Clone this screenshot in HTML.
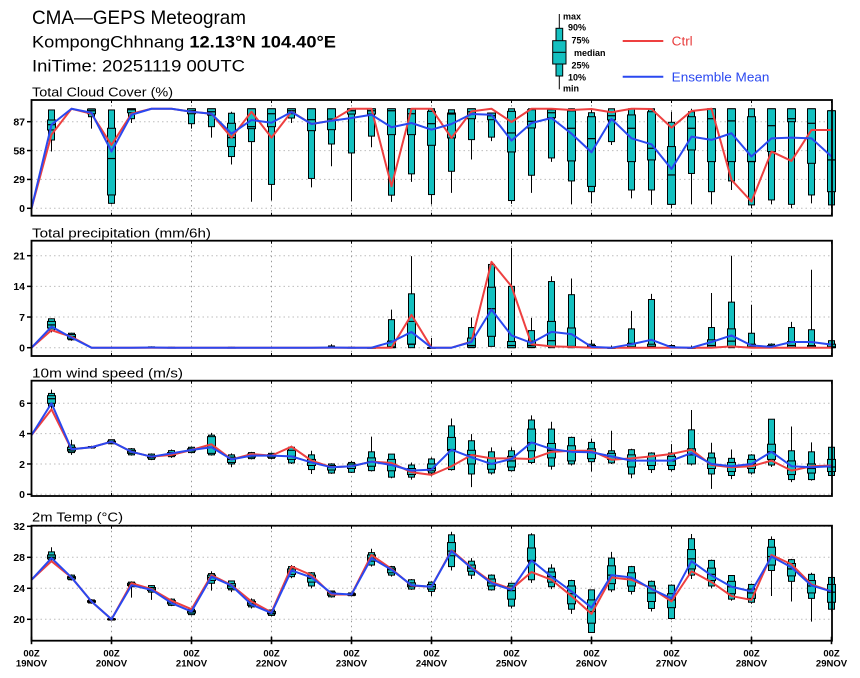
<!DOCTYPE html>
<html><head><meta charset="utf-8"><style>
html,body{margin:0;padding:0;background:#fff;}
svg{display:block;font-family:"Liberation Sans",Arial,sans-serif;}
.yl{font-weight:bold;font-size:10.5px;text-anchor:end;}
.xl{font-weight:bold;font-size:9.5px;text-anchor:middle;}
.lg{font-weight:bold;font-size:9px;}
</style></head><body>
<svg width="860" height="678" viewBox="0 0 860 678" xmlns="http://www.w3.org/2000/svg">
<rect width="860" height="678" fill="#fff"/>
<text x="32" y="24" font-size="19.5" textLength="214" lengthAdjust="spacingAndGlyphs">CMA—GEPS Meteogram</text>
<text x="32" y="47.7" font-size="16.5" textLength="304" lengthAdjust="spacingAndGlyphs">KompongChhnang <tspan font-weight="bold">12.13°N 104.40°E</tspan></text>
<text x="32" y="71.7" font-size="16.5" textLength="213" lengthAdjust="spacingAndGlyphs">IniTime: 20251119 00UTC</text>

<!-- legend -->
<line x1="559.3" y1="14" x2="559.3" y2="89.3" stroke="#000" stroke-width="1"/>
<rect x="556" y="28.3" width="6.7" height="47.7" fill="#14c0c0" stroke="#000" stroke-width="1"/>
<rect x="552.7" y="40.7" width="13.3" height="23.3" fill="#14c0c0" stroke="#000" stroke-width="1"/>
<line x1="552.7" y1="52.3" x2="566" y2="52.3" stroke="#000" stroke-width="1"/>
<text class="lg" x="563" y="19.3">max</text>
<text class="lg" x="568" y="30.7">90%</text>
<text class="lg" x="571.5" y="43.3">75%</text>
<text class="lg" x="574" y="56">median</text>
<text class="lg" x="571.5" y="68.3">25%</text>
<text class="lg" x="568" y="80.7">10%</text>
<text class="lg" x="563" y="91.7">min</text>
<line x1="622.7" y1="41" x2="663.3" y2="41" stroke="#ee4040" stroke-width="2"/>
<text x="671.7" y="45.5" font-size="13" fill="#e83c3c" textLength="21" lengthAdjust="spacingAndGlyphs">Ctrl</text>
<line x1="622.7" y1="76.7" x2="663.3" y2="76.7" stroke="#2a48f0" stroke-width="2"/>
<text x="671.7" y="81.5" font-size="13" fill="#2a48f0" textLength="97.7" lengthAdjust="spacingAndGlyphs">Ensemble Mean</text>

<!-- panel titles -->
<text x="32" y="96.7" font-size="12.5" textLength="141" lengthAdjust="spacingAndGlyphs">Total Cloud Cover (%)</text>
<text x="32" y="237.3" font-size="12.5" textLength="179" lengthAdjust="spacingAndGlyphs">Total precipitation (mm/6h)</text>
<text x="32" y="377.3" font-size="12.5" textLength="151" lengthAdjust="spacingAndGlyphs">10m wind speed (m/s)</text>
<text x="32" y="521.7" font-size="12.5" textLength="91" lengthAdjust="spacingAndGlyphs">2m Temp (°C)</text>

<!-- y labels -->
<text class="yl" x="25" y="212.1">0</text>
<text class="yl" x="25" y="183.2">29</text>
<text class="yl" x="25" y="154.4">58</text>
<text class="yl" x="25" y="125.5">87</text>

<text class="yl" x="25" y="351.5">0</text>
<text class="yl" x="25" y="320.8">7</text>
<text class="yl" x="25" y="290.2">14</text>
<text class="yl" x="25" y="259.5">21</text>

<text class="yl" x="25" y="498.1">0</text>
<text class="yl" x="25" y="467.8">2</text>
<text class="yl" x="25" y="437.4">4</text>
<text class="yl" x="25" y="407.1">6</text>

<text class="yl" x="25" y="623.1">20</text>
<text class="yl" x="25" y="592.1">24</text>
<text class="yl" x="25" y="561.1">28</text>
<text class="yl" x="25" y="530.1">32</text>

<!-- x labels -->
<g>
<text class="xl" x="31.5" y="656.5">00Z</text><text class="xl" x="31.5" y="666.5">19NOV</text>
<text class="xl" x="111.5" y="656.5">00Z</text><text class="xl" x="111.5" y="666.5">20NOV</text>
<text class="xl" x="191.5" y="656.5">00Z</text><text class="xl" x="191.5" y="666.5">21NOV</text>
<text class="xl" x="271.5" y="656.5">00Z</text><text class="xl" x="271.5" y="666.5">22NOV</text>
<text class="xl" x="351.5" y="656.5">00Z</text><text class="xl" x="351.5" y="666.5">23NOV</text>
<text class="xl" x="431.5" y="656.5">00Z</text><text class="xl" x="431.5" y="666.5">24NOV</text>
<text class="xl" x="511.5" y="656.5">00Z</text><text class="xl" x="511.5" y="666.5">25NOV</text>
<text class="xl" x="591.5" y="656.5">00Z</text><text class="xl" x="591.5" y="666.5">26NOV</text>
<text class="xl" x="671.5" y="656.5">00Z</text><text class="xl" x="671.5" y="666.5">27NOV</text>
<text class="xl" x="751.5" y="656.5">00Z</text><text class="xl" x="751.5" y="666.5">28NOV</text>
<text class="xl" x="831.5" y="656.5">00Z</text><text class="xl" x="831.5" y="666.5">29NOV</text>
</g>

<g id="plots"></g>
</svg>
<script>
(function(){
const NS="http://www.w3.org/2000/svg";
const g=document.getElementById('plots');
function el(tag,a){const e=document.createElementNS(NS,tag);for(const k in a)e.setAttribute(k,a[k]);g.appendChild(e);return e;}
const X=k=>31.5+20*k;
const P1=[[0,0],
[57,68.6,78.7,84,88.7,98.8,99,74,84],
[100,100],
[80,92,95,98,99.7,100,100,95,96],
[4,5,13.4,50,80.4,98.8,99,63.6,57],
[85.7,90,96,99,100,100,100,95,94],
[100,100],
[100,100],
[80,85,95,98,100,100,100,97,97],
[71,82,93.6,97,100,100,100,95,95],
[44,52,62,71,85.4,95.5,97,71,75],
[6.6,67,80,82,100,100,100,97,88.7],
[8,24,82,95,100,100,100,71,86],
[85.7,90.7,95,98,100,100,100,97,96.7],
[21,30,78,89,100,100,100,84.7,84.7],
[42.3,64.6,79,89.7,100,100,100,88,88],
[7,55.6,94.7,98,100,100,100,100,90.7],
[61.3,72.5,94.7,98,100,100,100,100,94],
[6.5,13.2,74,98,100,100,100,22.2,81.4],
[26.5,34.6,74,95,100,100,100,100,85.7],
[3.8,13.8,63.3,85,97.4,100,100,100,79],
[15.5,37.2,70.7,94.7,95.7,99,99,70.7,84.7],
[49,69,90,97,100,100,100,97.4,94.7],
[67.5,71.5,89,93,95.7,95.7,96,100,94],
[4.5,7.8,56.6,75.7,97.4,100,100,86.7,68],
[15.5,33.2,80.7,87.4,99,100,100,100,85.7],
[46.6,50.6,91,96,99,99,100,100,90.7],
[4,27.5,47.6,80.4,97.8,100,100,98.8,75],
[5,16.7,22,70,92,96,100,99.8,56.3],
[63.6,67,88.8,93,97,100,100,96.5,89.8],
[10,18.4,46.9,80.4,93.8,100,100,100,70.3],
[3.4,18.4,48.6,60.3,97,100,100,99.8,64.3],
[0,4,4,33.5,62,86.4,97,81,39.5],
[4,35,58.6,80.4,92,97,100,97.8,72],
[4,16.7,46.9,90,100,100,100,100,68.7],
[18.4,27.5,46.9,87.8,100,100,100,28.5,75.4],
[0,3.4,46.9,47,92,100,100,6.7,52],
[4,8.4,57,83,100,100,100,57,70.3],
[0,4,87,90,100,100,100,47.6,71],
[5,13.4,45.2,85.4,100,100,100,78.7,70.3],
[0,3.4,16.7,48.6,98,98,100,78.7,52]];
const P2=[[0,0],
[3.5,4.0,4.5,5.2,6.0,6.6,6.7,4.0,4.8],
[1.6,1.8,2.0,2.5,3.0,3.3,3.4,2.5,2.3],
[0,0],[0,0],[0,0],
[0,0,0,0.05,0.1,0.2,0.3,0,0.05],
[0,0,0,0,0.05,0.1,0.2,0,0],
[0,0],[0,0],
[0,0,0,0,0.05,0.1,0.2,0,0],
[0,0],[0,0],[0,0],[0,0],
[0,0,0,0.05,0.15,0.4,0.8,0,0.05],
[0,0,0,0,0.05,0.1,0.2,0,0],
[0,0,0,0,0,0.05,0.2,0,0],
[0,0,0,0.2,1.5,6.4,8.7,0,1.3],
[0,0,0.8,0.8,6,12.3,20.9,7.5,3.6],
[0,0,0,0,0,0,2.2,0,0],
[0,0],
[0,0,0.1,0.5,2.2,4.6,6.9,1.4,1.3],
[0.3,0.3,2.6,8.9,13.8,19,19.3,19.6,8.7],
[0,0,0,0.5,1.4,14,22.8,14,2.8],
[0,0,0.1,0.5,1.5,3.9,6.8,0.8,1.1],
[0,0,0.3,1.6,6,15.1,16.3,0.3,3.6],
[0,0,0.1,0.3,4.5,12.1,15.8,0.2,3.1],
[0,0,0,0.2,0.5,0.8,1.8,0,0.2],
[0,0,0,0,0,0,0.5,0,0],
[0,0,0,0.2,1,4.3,8.4,0,0.8],
[0,0,0,0.3,0.8,11,12.3,0,1.8],
[0,0,0,0,0.2,0.5,0.8,0,0.1],
[0,0,0,0,0,0,0.5,0,0],
[0,0,0.1,0.5,1.8,4.6,12.5,0,1.3],
[0,0,0.3,1.5,4.3,10.4,21,0.3,2.8],
[0,0,0,0.2,0.8,3.3,9.8,0,0.5],
[0,0,0,0.2,0.5,0.8,1,0,0.2],
[0,0,0.1,0.5,1.4,4.6,5.9,0,1.3],
[0,0,0,0.2,0.5,4.1,17.8,0,1.3],
[0,0,0,0.2,0.8,1.6,1.8,0,0.7]];
const P3=[[3.9,3.9],
[5.6,5.8,6.0,6.3,6.5,6.65,6.9,5.6,6.0],
[2.6,2.75,2.85,2.95,3.1,3.25,3.6,2.97,2.97],
[3.0,3.05,3.08,3.1,3.12,3.15,3.2,3.1,3.1],
[3.3,3.33,3.4,3.45,3.5,3.6,3.6,3.47,3.47],
[2.55,2.6,2.7,2.8,2.9,3.0,3.05,2.8,2.8],
[2.25,2.3,2.4,2.48,2.55,2.65,2.7,2.48,2.48],
[2.4,2.48,2.55,2.65,2.75,2.88,2.95,2.6,2.7],
[2.7,2.75,2.85,2.92,3.0,3.1,3.15,2.92,2.92],
[2.55,2.6,2.7,3.1,3.8,3.9,4.05,3.3,3.1],
[1.78,2.0,2.1,2.3,2.45,2.6,2.7,2.3,2.3],
[2.3,2.35,2.45,2.55,2.65,2.75,2.8,2.65,2.55],
[2.3,2.37,2.45,2.55,2.62,2.7,2.75,2.55,2.55],
[2.0,2.07,2.3,2.5,2.9,3.1,3.2,3.14,2.5],
[1.34,1.63,1.9,2.1,2.3,2.6,2.87,2.22,2.1],
[1.35,1.4,1.6,1.78,1.9,2.0,2.05,1.78,1.78],
[1.4,1.45,1.7,1.85,2.0,2.1,2.2,1.85,1.85],
[1.5,1.56,1.85,2.15,2.4,2.8,3.8,2.15,2.15],
[1.06,1.13,1.55,1.93,2.3,2.65,2.65,2.07,1.93],
[0.97,1.13,1.3,1.5,1.7,1.93,2.1,1.45,1.56],
[1.2,1.41,1.55,1.7,2.0,2.33,2.43,1.28,1.63],
[1.56,1.63,2.87,2.95,3.75,4.51,5.0,1.85,2.94],
[0.47,1.34,2.0,2.6,2.9,3.53,3.97,2.59,2.44],
[1.3,1.41,1.65,2.0,2.4,2.8,3.09,2.37,2.0],
[1.5,1.56,1.8,2.2,2.5,2.87,3.09,2.37,2.33],
[2.0,2.1,2.87,3.4,4.3,4.9,5.2,2.33,3.42],
[1.63,1.85,2.4,2.9,3.35,4.3,4.78,2.8,2.98],
[1.9,2.0,2.2,2.8,3.2,3.75,3.8,2.87,2.8],
[1.5,2.15,2.35,2.8,3.0,3.42,3.68,2.87,2.77],
[2.0,2.07,2.3,2.5,2.7,2.87,4.19,2.28,2.5],
[1.06,1.34,1.8,2.2,2.6,2.94,3.0,2.37,2.22],
[1.4,1.63,1.9,2.2,2.5,2.72,2.77,2.5,2.22],
[1.5,1.63,1.9,2.2,2.5,2.72,3.31,2.66,2.22],
[1.9,2.0,2.0,2.6,3.0,4.25,5.56,2.94,2.72],
[0.36,1.34,1.7,2.0,2.4,2.72,3.4,1.93,2.0],
[1.0,1.24,1.5,1.8,2.1,2.37,2.95,1.78,1.85],
[1.3,1.41,1.7,2.0,2.3,2.59,2.65,1.85,2.0],
[1.8,1.93,2.3,2.8,3.3,4.95,4.95,2.22,2.8],
[0.8,0.97,1.3,1.6,2.2,2.87,4.47,1.56,1.85],
[0.9,0.97,1.4,1.7,2.0,2.8,3.42,1.85,1.78],
[1.2,1.24,1.5,1.8,2.3,3.1,3.2,1.9,1.85]];
const P4=[[25.1,25.1],
[27.4,27.7,27.8,28.0,28.3,28.7,29.3,27.5,27.9],
[25.0,25.1,25.2,25.4,25.5,25.7,25.8,25.4,25.4],
[22.0,22.1,22.2,22.3,22.4,22.5,22.6,22.3,22.3],
[19.85,19.9,19.95,20.0,20.05,20.1,20.15,20,20],
[22.8,24.2,24.35,24.5,24.65,24.8,24.9,24.65,24.4],
[22.5,23.5,23.7,23.9,24.1,24.35,24.4,23.9,23.8],
[21.7,21.8,22.0,22.2,22.4,22.6,22.7,22.4,22.1],
[20.5,20.6,20.8,21.0,21.1,21.3,21.4,21.3,21.0],
[23.7,24.65,25.0,25.4,25.7,25.9,26.2,25.7,25.5],
[23.5,23.8,24.0,24.3,24.6,24.95,25.0,24.4,24.35],
[21.4,21.6,21.8,22.0,22.3,22.5,22.7,22.3,21.9],
[20.4,20.5,20.7,20.8,21.0,21.2,21.3,20.9,20.8],
[25.3,25.5,25.8,26.2,26.5,26.8,27.0,26.8,26.3],
[24.0,24.3,24.8,25.3,25.7,26.0,26.1,25.7,25.4],
[22.8,22.9,23.1,23.3,23.5,23.65,23.7,23.2,23.35],
[23.0,23.05,23.1,23.2,23.3,23.4,23.45,23.2,23.2],
[26.8,27.0,27.5,27.9,28.3,28.6,29.1,28.3,27.9],
[25.5,25.7,26.0,26.4,26.6,26.8,26.9,26.5,26.4],
[23.8,23.9,24.2,24.4,24.7,25.1,25.2,24.35,24.4],
[23.0,23.6,23.9,24.2,24.5,24.8,24.9,24.2,24.2],
[26.3,26.8,28.2,28.8,29.9,30.9,31.3,28.9,28.8],
[25.2,25.7,26.2,26.6,27.0,27.5,27.9,26.7,26.6],
[23.7,23.8,24.3,24.7,25.2,25.7,25.8,24.8,24.65],
[21.4,21.7,22.6,23.7,24.3,24.65,24.7,23.9,23.8],
[24.7,25.1,27.5,27.6,29.2,30.9,31.1,26.1,27.6],
[23.9,24.2,24.8,25.5,26.1,26.6,27.1,25.1,25.5],
[20.7,21.3,22.0,23.3,24.3,25.0,25.1,23.0,23.6],
[18.3,18.3,19.5,21.0,22.5,23.8,23.8,20.7,21.5],
[23.5,23.8,24.6,25.7,26.9,27.9,28.7,25.4,25.7],
[23.2,23.6,24.3,25.2,26.0,26.8,26.9,25.1,25.4],
[21.0,21.4,22.3,23.4,24.3,24.9,25.0,24.0,23.9],
[20.0,20.1,21.5,22.5,23.3,24.4,24.5,22.3,22.7],
[25.2,25.7,26.5,27.8,29.0,30.4,31.0,26.2,27.5],
[24.0,24.3,25.0,25.8,26.6,27.6,27.7,24.8,25.65],
[22.4,22.6,23.3,24.2,24.9,25.65,25.7,23.0,24.2],
[22.0,22.2,22.7,23.4,23.9,24.5,24.6,22.5,23.6],
[23.0,26.3,27.0,28.1,29.3,30.3,30.7,28.3,28.1],
[22.3,24.9,25.6,26.5,27.2,27.7,27.8,27.1,26.7],
[19.7,22.7,23.4,24.3,25.0,25.8,26.0,24.5,24.35],
[21.0,21.3,22.2,23.5,24.5,25.4,25.5,23.6,23.6]];
const panels=[
 {top:100,bot:215.7,f:v=>208.3-v*0.9954,ticks:[0,29,58,87],d:P1},
 {top:240.7,bot:356,f:v=>347.7-v*4.381,ticks:[0,7,14,21],d:P2},
 {top:380.7,bot:496,f:v=>494.3-v*15.17,ticks:[0,2,4,6],d:P3},
 {top:525.7,bot:640.7,f:v=>619.3-(v-20)*7.75,ticks:[20,24,28,32],d:P4}
];
const FILL='#14c0c0';
panels.forEach((p,pi)=>{
  p.ticks.forEach(t=>{const y=p.f(t);
    el('line',{x1:31.5,x2:832,y1:y,y2:y,stroke:'#bdbdbd','stroke-width':1,'stroke-dasharray':'1.5 3'});
    el('line',{x1:27,x2:31.5,y1:y,y2:y,stroke:'#000','stroke-width':1.5});});
  for(let d=1;d<10;d++){const x=31.5+80*d;
    el('line',{x1:x,x2:x,y1:p.top,y2:p.bot,stroke:'#9a9a9a','stroke-width':1,'stroke-dasharray':'1.5 3.5'});}
  p.d.forEach((r,k)=>{ if(r.length<9) return; const x=X(k); const y=r.slice(0,7).map(p.f);
    el('line',{x1:x,x2:x,y1:y[0],y2:y[6],stroke:'#000','stroke-width':1});
    el('rect',{x:x-3,y:y[5],width:6,height:Math.max(y[1]-y[5],0.6),fill:FILL,stroke:'#000','stroke-width':1});
    el('rect',{x:x-4,y:y[4],width:8,height:Math.max(y[2]-y[4],0.6),fill:FILL,stroke:'#000','stroke-width':1});
    el('line',{x1:x-4,x2:x+4,y1:y[3],y2:y[3],stroke:'#000','stroke-width':1.2});
  });
  const pts=i=>p.d.map((r,k)=>X(k)+','+p.f(r[r.length-2+i]).toFixed(2)).join(' ');
  el('polyline',{points:pts(0),fill:'none',stroke:'#ee4040','stroke-width':2,'stroke-linejoin':'round'});
  el('polyline',{points:pts(1),fill:'none',stroke:'#2a48f0','stroke-width':2,'stroke-linejoin':'round'});
  el('rect',{x:31.5,y:p.top,width:800.5,height:p.bot-p.top,fill:'none',stroke:'#000','stroke-width':1.8});
  for(let d=0;d<=10;d++){const x=31.5+80*d;
    if(pi===3){el('line',{x1:x,x2:x,y1:p.bot-4,y2:p.bot+3.5,stroke:'#000','stroke-width':1.6});}
    else{el('line',{x1:x,x2:x,y1:p.bot-3,y2:p.bot,stroke:'#000','stroke-width':1});}
    el('line',{x1:x,x2:x,y1:p.top,y2:p.top+3,stroke:'#000','stroke-width':1});
  }
});
})();
</script>
</body></html>
